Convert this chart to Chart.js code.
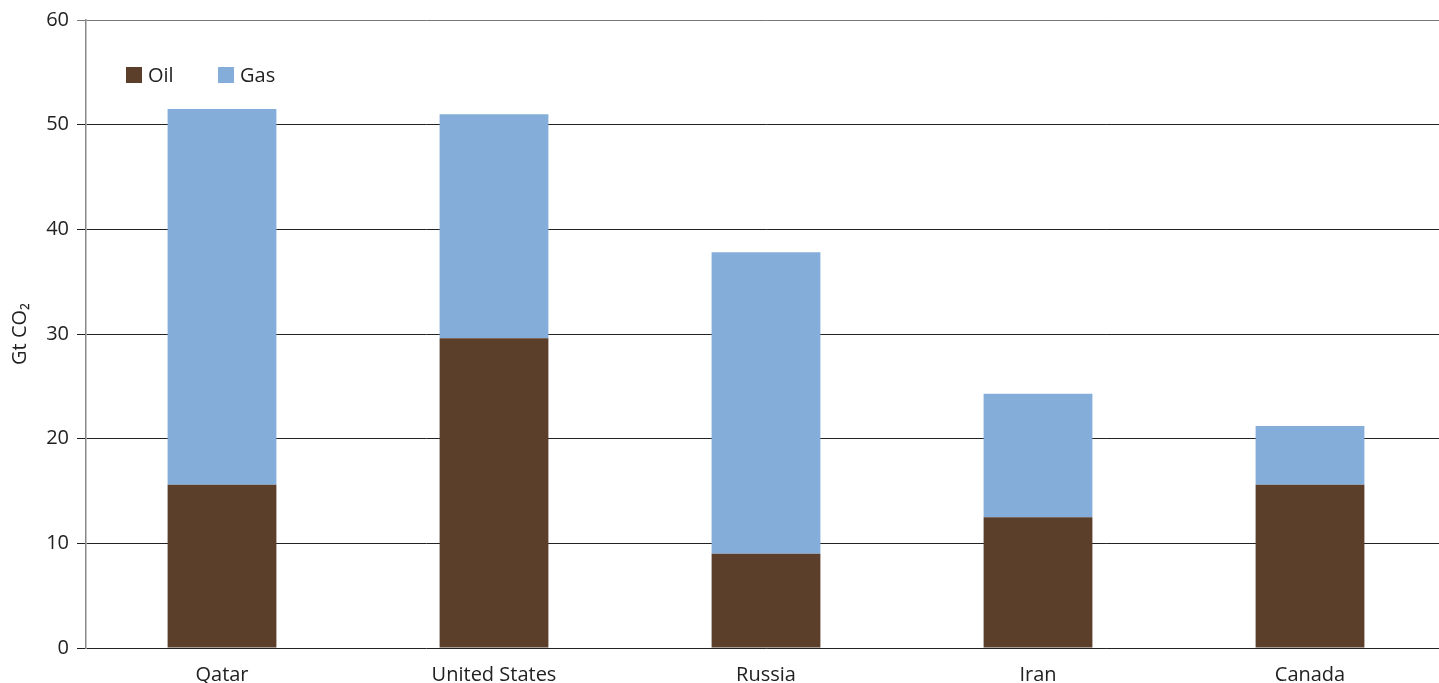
<!DOCTYPE html>
<html>
<head>
<meta charset="utf-8">
<script src="https://cdn.jsdelivr.net/npm/chart.js@4"></script>
<style>
  html, body { margin: 0; padding: 0; background: #fff; overflow: hidden; }
  #wrap { position: relative; width: 1446px; height: 683px; }
  #legend { position: absolute; left: 126px; top: 63px; display: flex; font-family: "Open Sans", sans-serif; font-size: 20px; line-height: 24px; color: #222; }
  #legend .item { display: flex; align-items: center; width: 92px; }
  #legend .sw { width: 16px; height: 16px; margin-right: 6px; }
</style>
</head>
<body>
<div id="wrap">
  <canvas id="c" width="1446" height="683"></canvas>
  <div id="legend"></div>
</div>
<script>
const categories = ["Qatar", "United States", "Russia", "Iran", "Canada"];
const oilValues = [15.6, 29.6, 9.0, 12.5, 15.6];
const gasValues = [35.9, 21.4, 28.8, 11.8, 5.6];
const yTicks = [0, 10, 20, 30, 40, 50, 60];
const seriesNames = ["Oil", "Gas"];
const seriesColors = ["#5B3F2A", "#84AED9"];
const yAxisTitle = "Gt CO\u2082";

const datasets = [
  { label: seriesNames[0], data: oilValues, backgroundColor: seriesColors[0] },
  { label: seriesNames[1], data: gasValues, backgroundColor: seriesColors[1] }
];

const legend = document.getElementById("legend");
datasets.forEach(ds => {
  const it = document.createElement("div");
  it.className = "item";
  const sw = document.createElement("span");
  sw.className = "sw";
  sw.style.background = ds.backgroundColor;
  const tx = document.createElement("span");
  tx.textContent = ds.label;
  it.appendChild(sw); it.appendChild(tx);
  legend.appendChild(it);
});

Chart.defaults.font.family = '"Open Sans", sans-serif';
Chart.defaults.color = "#222";

new Chart(document.getElementById("c"), {
  type: "bar",
  data: { labels: categories, datasets: datasets },
  options: {
    responsive: false,
    animation: false,
    layout: { padding: { top: 20, right: 0, left: 0, bottom: 0 } },
    plugins: { legend: { display: false }, tooltip: { enabled: false } },
    datasets: { bar: { categoryPercentage: 1.0, barPercentage: 0.4 } },
    scales: {
      x: {
        stacked: true,
        grid: { display: false, drawTicks: false },
        border: { display: false },
        ticks: { font: { size: 20 }, color: "#222", padding: 15 },
        afterFit: s => { s.height = 35; }
      },
      y: {
        stacked: true,
        min: 0, max: 60,
        afterBuildTicks: s => { s.ticks = yTicks.map(v => ({ value: v })); },
        grid: {
          color: ctx => (ctx.tick && ctx.tick.value === 60) ? "#777" : "#222",
          lineWidth: 1,
          tickLength: 9
        },
        border: { display: true, color: "#888", width: 1.5 },
        ticks: { font: { size: 20 }, color: "#222", padding: 8 },
        title: { display: true, text: yAxisTitle, font: { size: 20 }, color: "#222", padding: { top: 8, bottom: 0 } },
        afterFit: s => { s.width = 86; }
      }
    }
  }
});
</script>
</body>
</html>
